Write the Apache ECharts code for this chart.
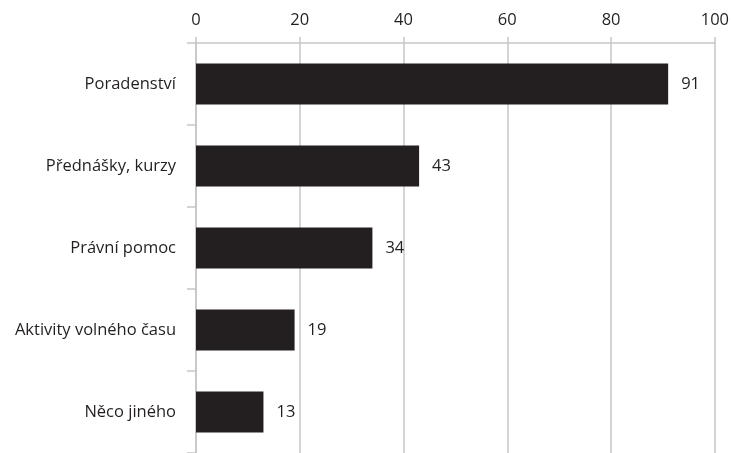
<!DOCTYPE html>
<html>
<head>
<meta charset="utf-8">
<script src="https://cdn.jsdelivr.net/npm/echarts@6/dist/echarts.min.js"></script>
<style>
  html, body { margin: 0; padding: 0; background: #ffffff; }
  #chart { width: 732px; height: 453px; }
</style>
</head>
<body>
<div id="chart"></div>
<script>
// Categories listed bottom-to-top (ECharts category axis on y starts at the bottom)
var categories = ['Něco jiného', 'Aktivity volného času', 'Právní pomoc', 'Přednášky, kurzy', 'Poradenství'];
var values = [13, 19, 34, 43, 91];
var axisTicks = [0, 20, 40, 60, 80, 100];

var textColor = '#231f20';
var lineColor = '#c6c6c6';
var fontFamily = '"Open Sans", "Noto Sans", sans-serif';
var fontSize = 16.5;

var chart = echarts.init(document.getElementById('chart'), null, { renderer: 'canvas' });
chart.setOption({
  animation: false,
  backgroundColor: '#ffffff',
  grid: { left: 196, right: 9, top: 43, height: 414, containLabel: false },
  xAxis: {
    type: 'value',
    position: 'top',
    min: axisTicks[0],
    max: axisTicks[axisTicks.length - 1],
    interval: 20,
    axisLine: { show: true, lineStyle: { color: lineColor, width: 1.5 } },
    axisTick: { show: true, length: 6, lineStyle: { color: lineColor, width: 1.5 } },
    axisLabel: { margin: 14, color: textColor, fontSize: fontSize, fontFamily: fontFamily },
    splitLine: { show: true, lineStyle: { color: lineColor, width: 1.5 } }
  },
  yAxis: {
    type: 'category',
    data: categories,
    axisLine: { show: true, lineStyle: { color: lineColor, width: 1.5 } },
    axisTick: { show: true, length: 9, alignWithLabel: false, lineStyle: { color: lineColor, width: 1.5 } },
    axisLabel: { margin: 20, color: textColor, fontSize: fontSize, fontFamily: fontFamily }
  },
  series: [{
    type: 'bar',
    data: values,
    barWidth: '50%',
    itemStyle: { color: '#231f20' },
    label: {
      show: true,
      position: 'right',
      distance: 13,
      color: textColor,
      fontSize: fontSize,
      fontFamily: fontFamily
    }
  }]
});
</script>
</body>
</html>
